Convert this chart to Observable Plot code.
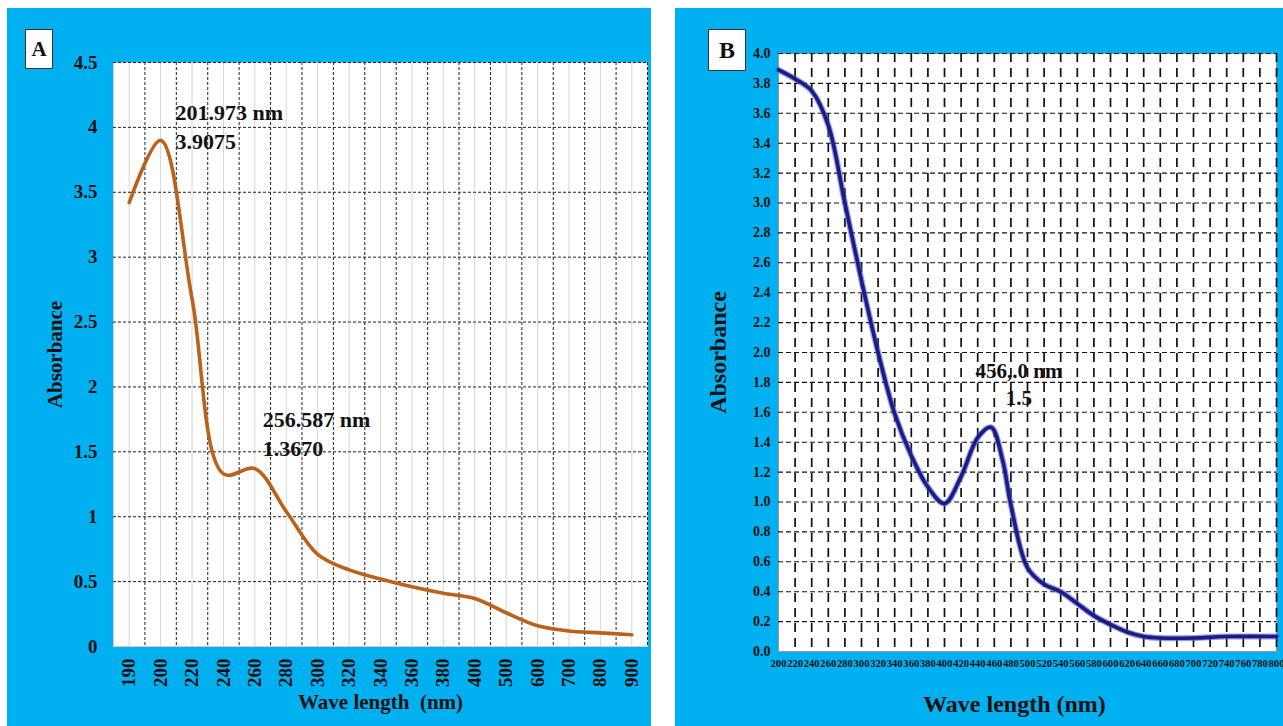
<!DOCTYPE html>
<html><head><meta charset="utf-8">
<script src="https://cdn.jsdelivr.net/npm/d3@7"></script>
<script src="https://cdn.jsdelivr.net/npm/@observablehq/plot@0.6"></script>
<style>
body{margin:0;background:#fff;width:1283px;height:726px;position:relative;overflow:hidden;font-family:"Liberation Serif","Times New Roman",serif;}
.panel{position:absolute;background:#00B0F0;}
.tag{position:absolute;background:#fff;border:1px solid #333;font-weight:bold;display:flex;align-items:center;justify-content:center;box-sizing:border-box;color:#111;}
</style></head><body>
<div id="A" class="panel" style="left:7px;top:8px;width:644px;height:718px"></div>
<div id="B" class="panel" style="left:675px;top:8px;width:608px;height:718px"></div>
<div class="tag" style="left:25px;top:29px;width:28px;height:40px;font-size:21px">A</div>
<div class="tag" style="left:708px;top:29px;width:38px;height:42px;font-size:24px">B</div>
<script>
// ---------- Panel A data ----------
const wavelengthsA = ["190","200","220","240","260","280","300","320","340","360","380","400","500","600","700","800","900"];
const absorbanceA = [3.42, 3.90, 2.68, 1.33, 1.37, 1.04, 0.71, 0.59, 0.52, 0.46, 0.41, 0.37, 0.26, 0.16, 0.12, 0.105, 0.09];
const yTicksA = [0, 0.5, 1, 1.5, 2, 2.5, 3, 3.5, 4, 4.5];
const peak1A = [{i: 1, v: 3.9075, label: "201.973 nm\n3.9075"}];
const peak2A = [{i: 4, v: 1.367, label: "256.587 nm\n1.3670"}];

// ---------- Panel B data ----------
const wavelengthsB = [200,220,240,260,280,300,320,340,360,380,400,420,440,456,470,480,500,520,540,560,580,600,620,640,660,700,740,800];
const absorbanceB = [3.89,3.83,3.75,3.52,3.00,2.48,2.00,1.59,1.31,1.10,0.99,1.17,1.43,1.50,1.28,0.98,0.56,0.45,0.40,0.32,0.24,0.18,0.13,0.10,0.09,0.09,0.10,0.10];
const xTicksB = [200,220,240,260,280,300,320,340,360,380,400,420,440,460,480,500,520,540,560,580,600,620,640,660,680,700,720,740,760,780,800];
const yTicksB = [0,0.2,0.4,0.6,0.8,1.0,1.2,1.4,1.6,1.8,2.0,2.2,2.4,2.6,2.8,3.0,3.2,3.4,3.6,3.8,4.0];
const peakB = [{x: 456, y: 1.5, label: "456,.0 nm\n1.5"}];

const FONT = "Liberation Serif";

// ---------- Panel A ----------
const idxA = wavelengthsA.map((_, i) => i);
const boundsA = idxA.map(i => i + 0.5);
const tableA = idxA.map(i => ({i, v: absorbanceA[i]}));
const annStyle = {x: "i", y: "v", text: "label", textAnchor: "start", lineAnchor: "top",
  fontSize: 22, fontWeight: "bold", lineHeight: 1.32, fill: "#111", fontFamily: FONT};

const plotA = Plot.plot({
  width: 644, height: 718,
  marginLeft: 106, marginRight: 4, marginTop: 54, marginBottom: 80,
  style: {background: "#00B0F0", fontFamily: FONT, color: "#111", overflow: "visible"},
  x: {domain: [-0.5, wavelengthsA.length - 0.5]},
  y: {domain: [0, 4.5]},
  marks: [
    Plot.frame({fill: "white", stroke: "#cfcfcf"}),
    Plot.ruleX(idxA, {stroke: "#d6d6d6", strokeWidth: 1}),
    Plot.text(peak1A, {...annStyle, dx: 15, dy: -40}),
    Plot.text(peak2A, {...annStyle, dx: 8, dy: -63}),
    Plot.ruleY(yTicksA.slice(1), {stroke: "#222", strokeDasharray: "3,2", strokeWidth: 1}),
    Plot.ruleX(boundsA, {stroke: "#222", strokeDasharray: "3,2", strokeWidth: 1}),
    Plot.line(tableA, {x: "i", y: "v", curve: "catmull-rom", stroke: "#BA611C", strokeWidth: 3.6}),
    Plot.axisX({ticks: idxA, tickFormat: i => wavelengthsA[i], tickRotate: -90, tickSize: 0, tickPadding: 12,
      fontSize: 19, fontWeight: "bold", fontFamily: FONT, fill: "#111", label: null}),
    Plot.axisY({ticks: yTicksA, tickFormat: d => String(d), tickSize: 0, tickPadding: 16,
      fontSize: 19, fontWeight: "bold", fontFamily: FONT, fill: "#111", label: null}),
    Plot.text(["Absorbance"], {frameAnchor: "left", textAnchor: "middle", rotate: -90, dx: -58, text: d => d,
      fontSize: 21, fontWeight: "bold", fontFamily: FONT, fill: "#111"}),
    Plot.text(["Wave length  (nm)"], {frameAnchor: "bottom", textAnchor: "middle", dy: 62, text: d => d,
      fontSize: 21, fontWeight: "bold", fontFamily: FONT, fill: "#111"})
  ]
});
document.getElementById("A").appendChild(plotA);

// ---------- Panel B ----------
const tableB = wavelengthsB.map((w, i) => ({w, v: absorbanceB[i]}));
const plotB = Plot.plot({
  width: 608, height: 718,
  marginLeft: 103, marginRight: 7, marginTop: 45, marginBottom: 75,
  style: {background: "#00B0F0", fontFamily: FONT, color: "#111", overflow: "visible"},
  x: {domain: [200, 800]},
  y: {domain: [0, 4]},
  marks: [
    Plot.frame({fill: "white", stroke: "#9a9a9a"}),
    Plot.text(peakB, {x: "x", y: "y", text: "label", textAnchor: "middle", lineAnchor: "top",
      dx: 28, dy: -69, fontSize: 21, fontWeight: "bold", lineHeight: 1.3, fill: "#111", fontFamily: FONT}),
    Plot.ruleY(yTicksB.slice(1), {stroke: "#111", strokeDasharray: "5,3", strokeWidth: 1.1}),
    Plot.ruleX(xTicksB.slice(1), {stroke: "#111", strokeDasharray: "9,6", strokeWidth: 1.7}),
    Plot.line(tableB, {x: "w", y: "v", curve: "catmull-rom", stroke: "#4a5bc4", strokeWidth: 6, strokeOpacity: 0.6}),
    Plot.line(tableB, {x: "w", y: "v", curve: "catmull-rom", stroke: "#1b1b86", strokeWidth: 3.6}),
    Plot.axisX({ticks: xTicksB, tickFormat: d => String(d), tickSize: 0, tickPadding: 8,
      fontSize: 10.6, fontWeight: "bold", fontFamily: FONT, fill: "#111", label: null}),
    Plot.axisY({ticks: yTicksB, tickFormat: d => d.toFixed(1), tickSize: 0, tickPadding: 8,
      fontSize: 14, fontWeight: "bold", fontFamily: FONT, fill: "#111", label: null}),
    Plot.text(["Absorbance"], {frameAnchor: "left", textAnchor: "middle", rotate: -90, dx: -60, text: d => d,
      fontSize: 24, fontWeight: "bold", fontFamily: FONT, fill: "#111"}),
    Plot.text(["Wave length (nm)"], {frameAnchor: "bottom", textAnchor: "middle", dx: -13, dy: 60, text: d => d,
      fontSize: 24, fontWeight: "bold", fontFamily: FONT, fill: "#111"})
  ]
});
document.getElementById("B").appendChild(plotB);
</script>
</body></html>
